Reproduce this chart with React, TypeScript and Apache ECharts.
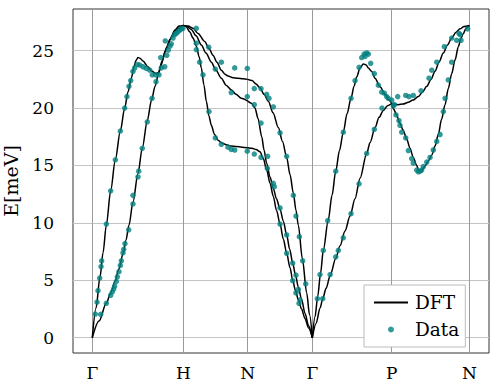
import React, { useEffect, useRef } from "react";
import * as echarts from "echarts";

// High-symmetry path positions and labels
const tickPositions = [0, 1, 1.708, 2.418, 3.29, 4.143];
const tickLabels = ["Γ", "H", "N", "Γ", "P", "N"];
const energyTicks = [0, 5, 10, 15, 20, 25];

// DFT branches [k, E(meV)]
const dftGH1 = [[0,0],[0.041,2.6],[0.085,5.3],[0.118,7.4],[0.154,9.8],[0.202,12.8],[0.253,15.5],[0.308,18.0],[0.356,20.0],[0.392,21.4],[0.429,22.6],[0.458,23.6],[0.48,24.15],[0.502,24.4],[0.524,24.35],[0.557,24.1],[0.612,23.6],[0.656,23.2],[0.7,23.0],[0.727,23.1],[0.755,23.7],[0.799,24.9],[0.854,26.0],[0.909,26.8],[0.953,27.15],[1.0,27.2]];
const dftGH2 = [[0,0],[0.074,1.45],[0.154,3.0],[0.205,3.95],[0.249,4.9],[0.293,6.0],[0.337,7.3],[0.37,8.5],[0.403,9.8],[0.447,11.8],[0.502,14.3],[0.549,16.5],[0.604,18.9],[0.651,20.7],[0.69,21.9],[0.727,23.0],[0.766,24.1],[0.818,25.3],[0.873,26.2],[0.927,26.8],[0.964,27.05],[1.0,27.2]];
const dftHN1 = [[1.0,27.2],[1.052,27.15],[1.107,26.95],[1.162,26.5],[1.235,25.8],[1.282,25.2],[1.326,24.6],[1.37,24.0],[1.418,23.3],[1.458,22.95],[1.491,22.8],[1.546,22.65],[1.601,22.6],[1.656,22.55],[1.708,22.5]];
const dftHN2 = [[1.0,27.2],[1.041,27.1],[1.088,26.85],[1.14,26.3],[1.198,25.5],[1.249,24.8],[1.308,24.0],[1.359,23.3],[1.418,22.6],[1.47,22.0],[1.527,21.6],[1.579,21.2],[1.637,20.85],[1.708,20.6]];
const dftHN3 = [[1.0,27.2],[1.03,27.1],[1.07,26.65],[1.107,26.1],[1.143,25.4],[1.173,24.5],[1.198,23.5],[1.227,22.0],[1.253,20.6],[1.282,19.3],[1.308,18.5],[1.343,17.7],[1.382,17.2],[1.425,16.95],[1.473,16.8],[1.524,16.7],[1.582,16.65],[1.645,16.6],[1.708,16.55]];
const dftNG1 = [[1.708,22.5],[1.755,22.4],[1.799,22.1],[1.843,21.75],[1.887,21.2],[1.934,20.6],[1.986,19.6],[2.044,18.3],[2.09,17.1],[2.136,15.7],[2.173,14.2],[2.209,12.6],[2.238,11.1],[2.264,9.8],[2.308,6.9],[2.356,3.9],[2.387,2.0],[2.418,0]];
const dftNG2 = [[1.708,20.6],[1.752,20.4],[1.788,20.0],[1.821,19.1],[1.862,17.5],[1.887,16.35],[1.916,15.2],[1.953,14.0],[1.989,13.0],[2.024,12.1],[2.063,11.2],[2.099,10.15],[2.136,8.95],[2.169,7.7],[2.202,6.5],[2.233,5.45],[2.264,4.4],[2.299,3.35],[2.338,2.1],[2.376,1.05],[2.418,0]];
const dftNG3 = [[1.708,16.55],[1.755,16.5],[1.799,16.4],[1.843,16.2],[1.879,15.6],[1.916,14.6],[1.953,13.45],[1.989,12.3],[2.024,11.1],[2.063,9.9],[2.099,8.6],[2.136,7.35],[2.173,6.1],[2.202,5.0],[2.233,4.1],[2.264,3.3],[2.299,2.5],[2.338,1.65],[2.376,0.85],[2.418,0]];
const dftGP1 = [[2.418,0],[2.448,1.85],[2.477,3.6],[2.508,5.6],[2.538,7.6],[2.593,10.25],[2.634,12.4],[2.675,14.5],[2.716,16.3],[2.758,17.9],[2.799,19.5],[2.843,20.85],[2.876,21.9],[2.905,22.7],[2.942,23.5],[2.978,23.85],[3.01,23.75],[3.033,23.5],[3.068,23.2],[3.107,22.6],[3.162,21.85],[3.217,21.2],[3.255,20.75],[3.29,20.4]];
const dftGP2 = [[2.418,0],[2.459,1.25],[2.503,2.6],[2.532,3.4],[2.569,4.3],[2.613,5.4],[2.675,6.9],[2.722,8.0],[2.777,9.3],[2.832,10.6],[2.887,12.1],[2.942,13.9],[3.015,16.05],[3.052,17.0],[3.107,18.3],[3.151,19.2],[3.198,19.8],[3.244,20.2],[3.29,20.4]];
const dftPN1 = [[3.29,20.4],[3.363,20.3],[3.414,20.35],[3.473,20.5],[3.524,20.7],[3.582,21.0],[3.629,21.4],[3.675,21.9],[3.722,22.5],[3.766,23.2],[3.81,24.0],[3.857,24.8],[3.903,25.5],[3.949,26.1],[3.997,26.6],[4.041,26.9],[4.085,27.1],[4.143,27.2]];
const dftPN2 = [[3.29,20.4],[3.313,19.9],[3.343,19.4],[3.379,18.7],[3.415,18.1],[3.455,17.3],[3.491,16.5],[3.527,15.7],[3.565,15.0],[3.585,14.6],[3.601,14.5],[3.623,14.6],[3.656,14.95],[3.692,15.4],[3.73,15.9],[3.766,16.7],[3.802,17.7],[3.837,19.0],[3.876,20.3],[3.912,21.7],[3.949,23.0],[3.986,24.2],[4.022,25.35],[4.052,26.1],[4.077,26.5],[4.107,26.95],[4.143,27.2]];

// Measured data [k, E(meV)]
const dataGH = [[0.033,2.06],[0.052,3.1],[0.063,4.1],[0.081,5.2],[0.096,6.2],[0.103,6.7],[0.154,9.9],[0.202,12.8],[0.253,15.5],[0.308,18.0],
  [0.092,2.04],[0.154,3.0],[0.202,3.7],[0.22,4.0],[0.235,4.25],[0.246,4.5],[0.264,4.9],[0.275,5.3],[0.293,5.75],[0.308,6.3],[0.319,6.7],[0.337,7.4],[0.345,7.7],[0.359,8.2],[0.4,9.4],[0.447,11.65],[0.447,12.4],[0.502,14.0],[0.51,14.5],[0.549,16.5],
  [0.356,20.0],[0.381,21.0],[0.403,21.9],[0.422,22.4],[0.447,23.2],[0.466,23.5],[0.495,23.8],[0.521,23.75],[0.557,23.6],[0.593,23.45],[0.631,23.3],[0.659,22.9],[0.697,22.9],[0.733,22.9],[0.758,23.5],[0.796,23.6],
  [0.604,18.8],[0.656,20.85],[0.7,22.3],[0.752,24.4],[0.802,25.85],[0.818,24.6],[0.835,25.05],[0.854,25.4],[0.868,25.6],[0.887,26.1],[0.905,26.4],[0.923,26.5],[0.942,26.65],[0.962,26.8],[0.978,26.9],[0.996,26.95]];
const dataHN = [[1.143,26.95],[1.143,25.65],[1.143,25.1],[1.18,24.0],[1.216,22.9],[1.279,25.3],[1.352,23.4],[1.418,24.0],[1.565,23.5],[1.703,23.45],[1.527,21.35],[1.703,21.0],[1.282,19.7],[1.352,17.4],[1.418,16.85],[1.491,16.6],[1.527,16.4],[1.565,16.35],[1.703,16.25]];
const dataNG = [[1.78,21.7],[1.854,21.7],[1.916,21.2],[1.942,20.85],[1.989,20.1],[2.063,17.85],[2.136,15.8],[2.209,12.4],[2.238,10.6],[2.275,8.8],[2.312,6.7],[2.345,4.7],
  [1.78,20.3],[1.854,18.7],
  [1.78,16.0],[1.854,15.7],[1.927,15.8],[1.923,14.75],[1.989,13.45],[2.0,13.15],[2.063,11.3],[2.063,9.9],[2.136,8.95],[2.136,7.35],[2.202,6.5],[2.202,4.97],[2.238,5.45],[2.264,4.2],[2.238,3.9],[2.282,3.3],[2.271,3.0]];
const dataGP = [[2.473,3.4],[2.502,5.5],[2.538,7.6],[2.587,10.2],[2.675,14.5],[2.758,17.9],[2.843,20.85],[2.887,22.4],[2.931,23.55],[2.96,24.4],[2.986,24.7],[3.015,24.8],[3.033,24.7],[2.997,24.5],[3.059,23.9],[3.099,23.0],[3.143,22.0],[3.18,21.4],[3.209,21.3],[3.235,21.0],[3.253,20.85],[3.29,20.7],[3.308,20.2],
  [2.532,3.4],[2.613,5.5],[2.675,7.05],[2.703,7.6],[2.758,8.7],[2.843,10.8],[2.931,13.4],[3.015,16.05],[3.099,18.15],[3.183,20.0]];
const dataPN = [[3.356,21.0],[3.444,21.1],[3.48,21.0],[3.527,21.1],[3.612,21.5],[3.7,22.6],[3.73,23.3],[3.785,24.0],[3.868,25.35],[3.949,26.1],[4.03,26.5],[4.052,25.9],[4.125,26.9],
  [3.319,20.3],[3.337,19.4],[3.37,18.9],[3.381,18.5],[3.4,17.9],[3.444,17.4],[3.473,16.3],[3.51,15.6],[3.527,15.2],[3.565,14.6],[3.583,14.45],[3.601,14.5],[3.619,14.6],[3.637,14.9],[3.675,15.3],[3.711,15.7],[3.747,16.35],[3.785,17.1],[3.821,17.7],[3.857,19.7],[3.876,20.85],[3.912,22.45],[3.949,24.0],[4.004,25.9],[4.041,26.4]];

const dftBranches = [dftGH1, dftGH2, dftHN1, dftHN2, dftHN3, dftNG1, dftNG2, dftNG3, dftGP1, dftGP2, dftPN1, dftPN2];
const measured = [...dataGH, ...dataHN, ...dataNG, ...dataGP, ...dataPN];

const FONT = "DejaVu Serif";

function labelFor(v: number): string {
  for (let i = 0; i < tickPositions.length; i++) {
    if (Math.abs(tickPositions[i] - v) < 1e-6) return tickLabels[i];
  }
  return "";
}

export default function App() {
  const ref = useRef<HTMLDivElement>(null);
  useEffect(() => {
    if (!ref.current) return;
    const chart = echarts.init(ref.current, null, { renderer: "svg" });
    const lineSeries = dftBranches.map((d) => ({
      type: "line",
      name: "DFT",
      data: d,
      symbol: "none",
      smooth: 0.3,
      smoothMonotone: "x",
      lineStyle: { color: "#000", width: 1.5 },
      itemStyle: { color: "#000" },
      z: 2,
      silent: true,
    }));
    chart.setOption({
      animation: false,
      backgroundColor: "#ffffff",
      textStyle: { fontFamily: FONT },
      grid: {
        left: 73, right: 9, top: 9, bottom: 32,
        outerBoundsMode: "none",
        containLabel: false,
        show: true, borderColor: "#333", borderWidth: 1, backgroundColor: "transparent",
      },
      legend: {
        orient: "vertical",
        left: 364, top: 285,
        data: [
          { name: "DFT", itemStyle: { color: "transparent", opacity: 0, borderWidth: 0 } },
          { name: "Data", icon: "circle" },
        ],
        itemWidth: 34, itemHeight: 6, itemGap: 8,
        padding: [8, 6, 8, 9],
        backgroundColor: "#fff", borderColor: "#bbb", borderWidth: 1,
        textStyle: { fontFamily: FONT, fontSize: 18.5, color: "#000", lineHeight: 18, padding: [0, 0, 0, 2] },
      },
      xAxis: {
        type: "value", min: -0.212, max: 4.359,
        axisLine: { show: false },
        axisTick: { show: true, customValues: tickPositions, length: 4, lineStyle: { color: "#999" } },
        axisLabel: { customValues: tickPositions, formatter: (v: number) => labelFor(v), margin: 11, fontSize: 17, color: "#000", fontFamily: FONT },
        splitLine: { show: true, lineStyle: { color: "#9a9a9a", width: 1 } },
      },
      yAxis: {
        type: "value", min: -1.33, max: 28.63,
        name: "E[meV]", nameLocation: "middle", nameGap: 53,
        nameTextStyle: { fontFamily: FONT, fontSize: 19, color: "#000" },
        axisLine: { show: false },
        axisTick: { show: true, customValues: energyTicks, length: 8, lineStyle: { color: "#c4c4c4" } },
        axisLabel: { customValues: energyTicks, margin: 19, fontSize: 17, color: "#000", fontFamily: FONT },
        splitLine: { show: true, lineStyle: { color: "#c4c4c4", width: 1 } },
      },
      series: [
        ...lineSeries,
        {
          type: "scatter", name: "Data", data: measured, symbolSize: 5.5,
          itemStyle: { color: "#008080" }, z: 3, silent: true,
        },
      ],
    });
    return () => chart.dispose();
  }, []);
  return <div ref={ref} style={{ position: "fixed", left: 0, top: 0, width: 498, height: 385 }} />;
}
